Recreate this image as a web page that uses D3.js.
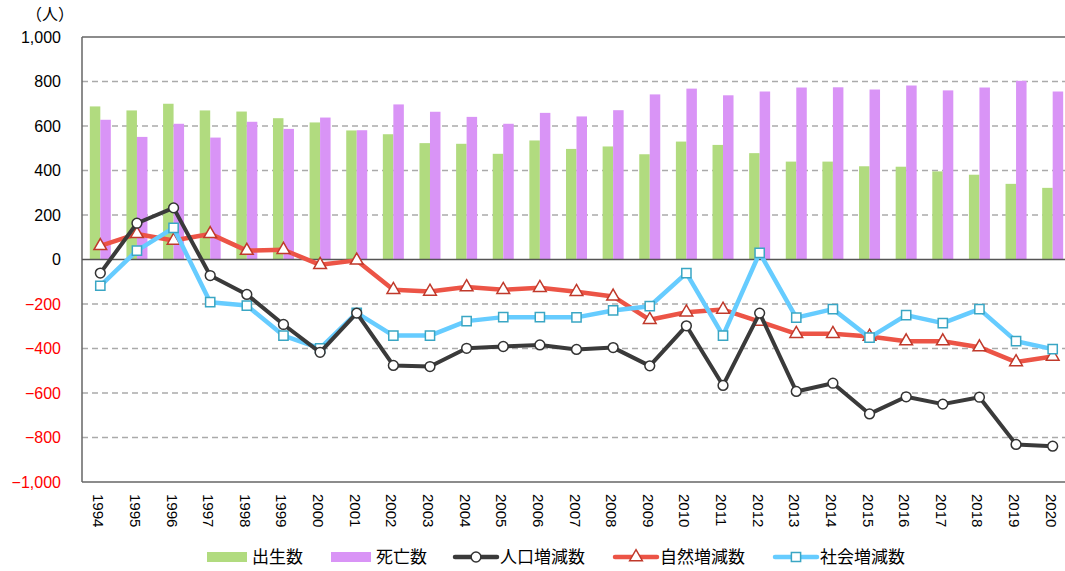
<!DOCTYPE html>
<html>
<head>
<meta charset="utf-8">
<script src="https://cdn.jsdelivr.net/npm/d3@7"></script>
<style>
  body { margin: 0; background: #fff; }
  svg { display: block; font-family: "Liberation Sans", Arial, sans-serif; }
</style>
</head>
<body>
<svg id="chart" width="1065" height="571"></svg>
<script>
var years = ["1994","1995","1996","1997","1998","1999","2000","2001","2002","2003","2004","2005","2006",
  "2007","2008","2009","2010","2011","2012","2013","2014","2015","2016","2017","2018","2019","2020"];

// 出生数, 死亡数 (bars)
var births = [688, 670, 700, 670, 665, 635, 616, 580, 563, 523, 520, 475, 535, 497, 508, 473, 530, 515,
  478, 440, 440, 419, 417, 396, 381, 340, 322];
var deaths = [628, 551, 610, 548, 619, 587, 638, 581, 697, 664, 641, 610, 659, 643, 671, 742, 768, 738,
  755, 773, 774, 764, 782, 760, 773, 803, 755];

// 人口増減数, 自然増減数, 社会増減数 (lines)
var popChange = [-61, 163, 232, -72, -157, -292, -417, -241, -476, -481, -399, -391, -384, -404, -396, -478,
  -298, -566, -241, -593, -556, -694, -617, -650, -619, -831, -839];
var naturalChange = [61, 115, 85, 115, 40, 44, -24, -4, -136, -144, -124, -136, -127, -145, -166, -271,
  -237, -225, -279, -334, -334, -346, -367, -367, -394, -461, -436];
var socialChange = [-118, 40, 142, -192, -207, -342, -399, -240, -342, -342, -277, -259, -259, -260, -229,
  -210, -61, -342, 30, -261, -223, -351, -250, -286, -223, -367, -403];

var yTicks = [1000, 800, 600, 400, 200, 0, -200, -400, -600, -800, -1000];

var svg = d3.select("#chart");
var plotL = 82, plotR = 1071, plotT = 37, plotB = 482;

var x = d3.scaleBand().domain(years).range([plotL, plotR]);
var y = d3.scaleLinear().domain([-1000, 1000]).range([plotB, plotT]);
var cx = function(d, i) { return x(years[i]) + x.bandwidth() / 2; };
var barW = 10.5;

// grid
svg.append("g")
  .selectAll("line")
  .data(yTicks.filter(function(d) { return d !== 0 && Math.abs(d) !== 1000; }))
  .enter().append("line")
    .attr("x1", plotL).attr("x2", plotR)
    .attr("y1", function(d) { return y(d); })
    .attr("y2", function(d) { return y(d); })
    .attr("stroke", "#aaaaaa")
    .attr("stroke-width", 1.3)
    .attr("stroke-dasharray", "6,4");

// bars
svg.append("g").selectAll("rect")
  .data(births).enter().append("rect")
    .attr("x", function(d, i) { return cx(d, i) - barW; })
    .attr("y", function(d) { return y(d); })
    .attr("width", barW)
    .attr("height", function(d) { return y(0) - y(d); })
    .attr("fill", "#b1db7f");

svg.append("g").selectAll("rect")
  .data(deaths).enter().append("rect")
    .attr("x", function(d, i) { return cx(d, i); })
    .attr("y", function(d) { return y(d); })
    .attr("width", barW)
    .attr("height", function(d) { return y(0) - y(d); })
    .attr("fill", "#d994f6");

// frame
svg.append("line").attr("x1", plotL).attr("x2", plotR).attr("y1", plotT).attr("y2", plotT)
  .attr("stroke", "#666").attr("stroke-width", 1.5);
svg.append("line").attr("x1", plotL).attr("x2", plotR).attr("y1", plotB).attr("y2", plotB)
  .attr("stroke", "#666").attr("stroke-width", 1.5);
svg.append("line").attr("x1", plotL).attr("x2", plotL).attr("y1", plotT).attr("y2", plotB)
  .attr("stroke", "#666").attr("stroke-width", 1.5);
svg.append("line").attr("x1", plotL).attr("x2", plotR).attr("y1", y(0)).attr("y2", y(0))
  .attr("stroke", "#555").attr("stroke-width", 1.5);

// y labels
svg.append("g").selectAll("text")
  .data(yTicks).enter().append("text")
    .attr("x", 61)
    .attr("y", function(d) { return y(d); })
    .attr("dy", "0.36em")
    .attr("text-anchor", "end")
    .attr("font-size", 16)
    .attr("fill", function(d) { return d < 0 ? "#ff0000" : "#000"; })
    .text(function(d) { return d3.format(",")(d).replace("-", "\u2212"); });

svg.append("text")
  .attr("x", 50).attr("y", 20)
  .attr("text-anchor", "middle")
  .attr("font-size", 16)
  .attr("font-family", "'Noto Sans CJK JP', sans-serif")
  .text("（人）");

// x labels
svg.append("g").selectAll("text")
  .data(years).enter().append("text")
    .attr("transform", function(d) { return "translate(" + (x(d) + x.bandwidth() / 2 - 7) + ",494) rotate(90)"; })
    .attr("font-size", 15)
    .attr("fill", "#000")
    .text(function(d) { return d; });

// lines
var line = d3.line()
  .x(function(d, i) { return cx(d, i); })
  .y(function(d) { return y(d); });

function drawSeries(data, color, width, marker, mStroke) {
  var g = svg.append("g");
  g.append("path")
    .datum(data)
    .attr("d", line)
    .attr("fill", "none")
    .attr("stroke", color)
    .attr("stroke-width", width)
    .attr("stroke-linejoin", "round");
  g.selectAll("path.m")
    .data(data).enter().append("path")
      .attr("class", "m")
      .attr("transform", function(d, i) { return "translate(" + cx(d, i) + "," + y(d) + ")"; })
      .attr("d", marker)
      .attr("fill", "#fff")
      .attr("stroke", mStroke)
      .attr("stroke-width", 1.5);
}

var circleM = d3.symbol().type(d3.symbolCircle).size(75)();
var triM = d3.symbol().type(d3.symbolTriangle).size(70)();
var sqM = d3.symbol().type(d3.symbolSquare).size(85)();

drawSeries(naturalChange, "#ec5446", 4.5, triM, "#c0392b");
drawSeries(socialChange, "#66ccff", 4.5, sqM, "#3aa6c4");
drawSeries(popChange, "#3a3a3a", 4, circleM, "#333");

// legend
var legend = svg.append("g")
  .attr("font-family", "'Noto Sans CJK JP', sans-serif")
  .attr("font-size", 17);

var legendItems = [
  { name: "出生数", type: "bar", color: "#b1db7f", x: 207 },
  { name: "死亡数", type: "bar", color: "#d994f6", x: 331 },
  { name: "人口増減数", type: "line", color: "#3a3a3a", stroke: "#333", marker: circleM, x: 455 },
  { name: "自然増減数", type: "line", color: "#ec5446", stroke: "#c0392b", marker: triM, x: 615 },
  { name: "社会増減数", type: "line", color: "#66ccff", stroke: "#3aa6c4", marker: sqM, x: 775 }
];
var ly = 557;
legendItems.forEach(function(d) {
  if (d.type === "bar") {
    legend.append("rect").attr("x", d.x).attr("y", ly - 5).attr("width", 40).attr("height", 10).attr("fill", d.color);
  } else {
    legend.append("line").attr("x1", d.x).attr("x2", d.x + 42).attr("y1", ly).attr("y2", ly)
      .attr("stroke", d.color).attr("stroke-width", 4.5).attr("stroke-linecap", "round");
    legend.append("path").attr("d", d.marker)
      .attr("transform", "translate(" + (d.x + 21) + "," + ly + ")")
      .attr("fill", "#fff").attr("stroke", d.stroke).attr("stroke-width", 1.5);
  }
  legend.append("text").attr("x", d.x + 45).attr("y", ly).attr("dy", "0.36em").text(d.name);
});
</script>
</body>
</html>
